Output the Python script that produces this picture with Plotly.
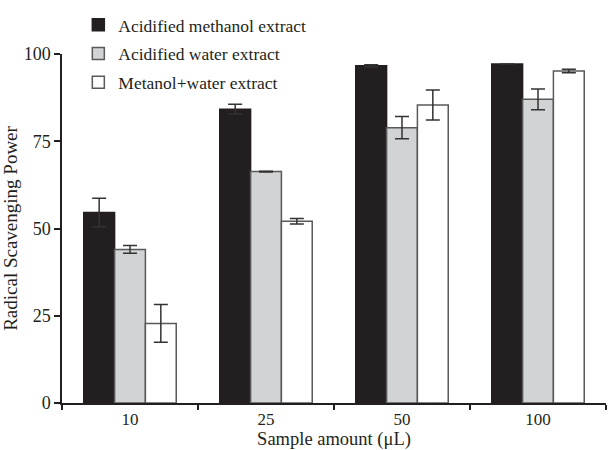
import plotly.graph_objects as go

categories = ["10", "25", "50", "100"]
series_names = ["Acidified methanol extract", "Acidified water extract", "Metanol+water extract"]
methanol = [54.6, 84.2, 96.6, 97.1]
methanol_err = [4.1, 1.4, 0.3, 0.0]
water = [44.0, 66.3, 78.9, 87.0]
water_err = [1.1, 0.1, 3.2, 3.0]
mixed = [22.8, 52.1, 85.4, 95.1]
mixed_err = [5.4, 0.8, 4.3, 0.5]

fills = ["#231f20", "#d1d3d4", "#ffffff"]
outlines = ["#231f20", "#58595b", "#58595b"]
FONT = "Liberation Serif"

fig = go.Figure()
for i, (name, vals, errs) in enumerate(zip(series_names, [methanol, water, mixed],
                                            [methanol_err, water_err, mixed_err])):
    fig.add_trace(go.Bar(
        x=categories, y=vals, name=name, legendgroup=f"g{i}",
        marker=dict(color=fills[i], line=dict(color=outlines[i], width=1.5)),
        error_y=dict(type="data", array=errs, visible=True, color="#333333",
                     thickness=1.5, width=7),
    ))

fig.update_layout(
    width=608, height=450,
    margin=dict(l=62, r=2, t=54, b=47),
    paper_bgcolor="white", plot_bgcolor="white",
    barmode="group", bargap=0.32, bargroupgap=0,
    font=dict(family=FONT, size=17, color="#231f20"),
    showlegend=True,
    legend=dict(x=0.03, y=1.135, xanchor="left", yanchor="top",
                bgcolor="rgba(0,0,0,0)", tracegroupgap=3,
                font=dict(family=FONT, size=17.5, color="#231f20"),
                itemwidth=30),
    xaxis=dict(
        type="category", showline=True, linecolor="#231f20", linewidth=1.5,
        ticks="outside", tickson="boundaries", ticklen=5, tickcolor="#231f20",
        tickwidth=1.5, showgrid=False, zeroline=False,
        title=dict(text="Sample amount (μL)", standoff=5,
                   font=dict(family=FONT, size=18.5)),
        tickfont=dict(family=FONT, size=17),
    ),
    yaxis=dict(
        range=[0, 100], tickvals=[0, 25, 50, 75, 100], showline=True,
        linecolor="#231f20", linewidth=1.5, ticks="outside", ticklen=6,
        tickcolor="#231f20", tickwidth=1.5, showgrid=False, zeroline=False,
        title=dict(text="Radical Scavenging Power", standoff=6,
                   font=dict(family=FONT, size=19)),
        tickfont=dict(family=FONT, size=18),
    ),
)

fig.write_html("out.html")
